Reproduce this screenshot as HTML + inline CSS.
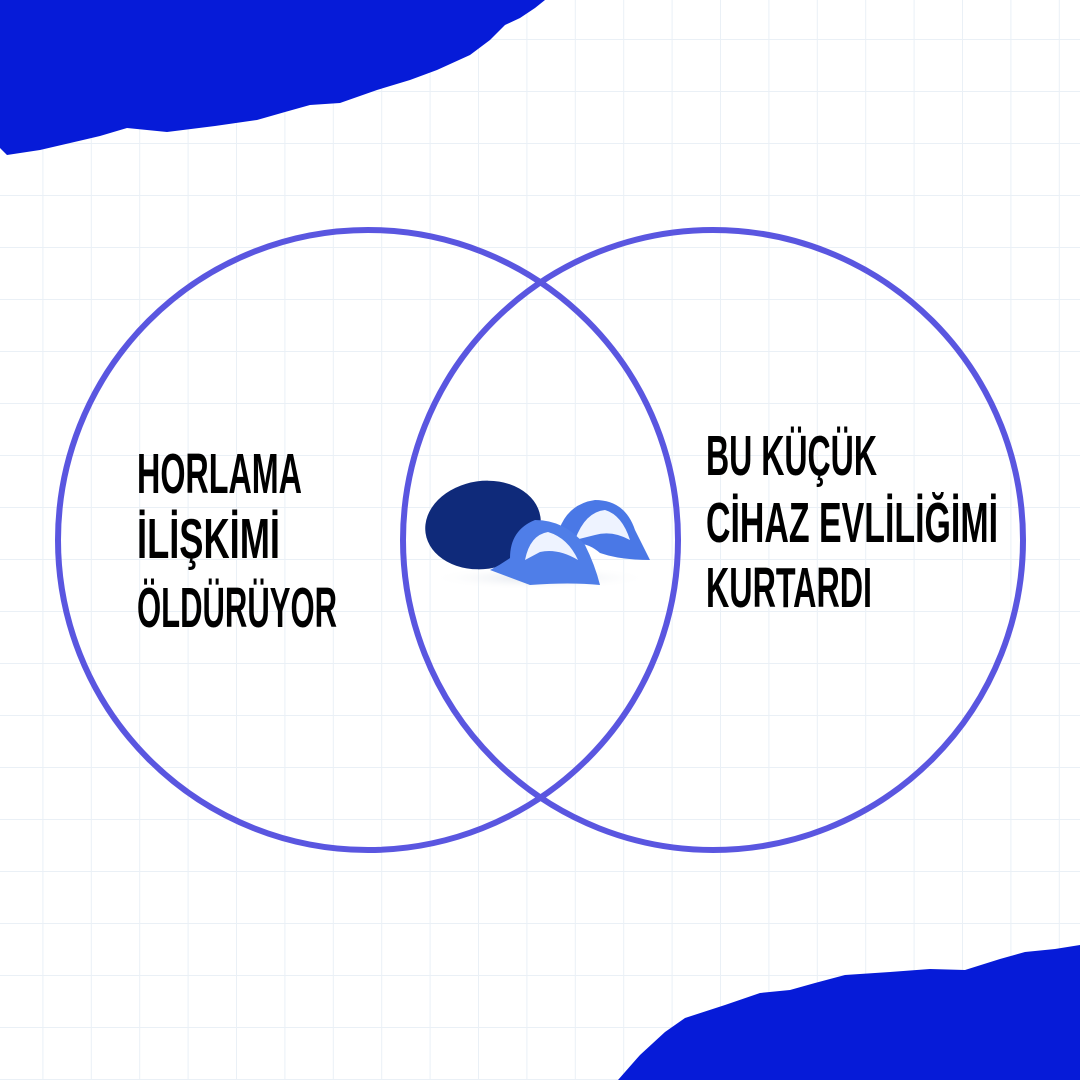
<!DOCTYPE html>
<html><head><meta charset="utf-8"><style>
html,body{margin:0;padding:0;width:1080px;height:1080px;overflow:hidden;background:#fff}
svg{display:block}
text{font-family:"Liberation Sans Narrow","Liberation Sans",sans-serif;font-weight:bold;fill:#000}
</style></head><body>
<svg width="1080" height="1080" viewBox="0 0 1080 1080" xmlns="http://www.w3.org/2000/svg">
<defs>
<pattern id="g" width="48.4" height="52" patternUnits="userSpaceOnUse" x="-5" y="-12">
<path d="M48.4 0V52M0 52H48.4" stroke="#eaf0f6" stroke-width="2" fill="none"/>
</pattern>
<radialGradient id="sh" cx="0.5" cy="0.5" r="0.5"><stop offset="0" stop-color="#c8d0dc" stop-opacity="0.6"/><stop offset="1" stop-color="#fff" stop-opacity="0"/></radialGradient>
</defs>
<rect width="1080" height="1080" fill="#fff"/>
<rect width="1080" height="1080" fill="url(#g)"/>
<path d="M0 0H545L535 8 520 18 505 25 490 40 470 55 437 70 410 80 377 90 340 103 310 105 285 112 257 120 215 126 167 132 127 128 100 136 83 140 40 150 7 155 0 148Z" fill="#061bd8"/>
<path d="M618 1080L640 1055 665 1032 685 1018 725 1005 760 993 790 990 815 983 845 975 890 972 930 969 965 970 1000 959 1025 952 1055 949 1080 945V1080Z" fill="#061bd8"/>
<circle cx="368" cy="540" r="310" fill="none" stroke="#5a56e0" stroke-width="6"/>
<circle cx="713" cy="540" r="310" fill="none" stroke="#5a56e0" stroke-width="6"/>
<ellipse cx="540" cy="578" rx="110" ry="12" fill="url(#sh)"/>
<ellipse cx="483" cy="525" rx="58" ry="44" fill="#0f2a7a" transform="rotate(-8 483 525)"/>
<path d="M555 548Q560 505 595 500 625 500 635 530 645 550 650 560 620 560 600 553 585 540 570 545Z" fill="#4a78e6"/>
<path d="M575 540Q585 512 605 510 622 515 630 540 612 530 595 535Z" fill="#eef3ff"/>
<path d="M490 570Q500 565 510 558 510 530 535 520 565 520 585 545 595 565 600 585 570 582 530 585 495 580Z" fill="#4f7ee8"/>
<path d="M525 560Q530 535 548 532 568 538 578 560 558 548 540 552Z" fill="#eef3ff"/>
<text x="137" y="493" font-size="57" textLength="165" lengthAdjust="spacingAndGlyphs">HORLAMA</text>
<text x="137" y="558" font-size="57" textLength="143" lengthAdjust="spacingAndGlyphs">İLİŞKİMİ</text>
<text x="137" y="627" font-size="57" textLength="200" lengthAdjust="spacingAndGlyphs">ÖLDÜRÜYOR</text>
<text x="706" y="475" font-size="57" textLength="171" lengthAdjust="spacingAndGlyphs">BU KÜÇÜK</text>
<text x="706" y="542" font-size="57" textLength="292" lengthAdjust="spacingAndGlyphs">CİHAZ EVLİLİĞİMİ</text>
<text x="706" y="607" font-size="57" textLength="166" lengthAdjust="spacingAndGlyphs">KURTARDI</text>
</svg>
</body></html>
